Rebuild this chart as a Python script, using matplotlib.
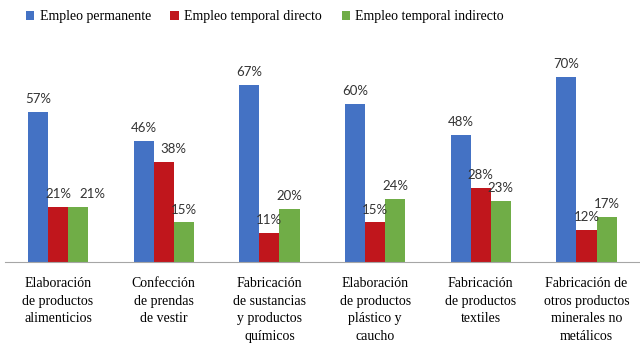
import numpy as np
import matplotlib.pyplot as plt

plt.rcParams["font.family"] = "serif"
plt.rcParams["font.serif"] = ["Liberation Serif", "DejaVu Serif"]

categories = ["Elaboración\nde productos\nalimenticios",
              "Confección\nde prendas\nde vestir",
              "Fabricación\nde sustancias\ny productos\nquímicos",
              "Elaboración\nde productos\nplástico y\ncaucho",
              "Fabricación\nde productos\ntextiles",
              "Fabricación de\notros productos\nminerales no\nmetálicos"]
series_names = ["Empleo permanente", "Empleo temporal directo", "Empleo temporal indirecto"]
permanente = [57, 46, 67, 60, 48, 70]
temp_directo = [21, 38, 11, 15, 28, 12]
temp_indirecto = [21, 15, 20, 24, 23, 17]
colors = ["#4472C4", "#C0161C", "#70AD47"]

# labels that Excel nudged sideways to avoid overlaps: (series, category) -> dx in points
nudges = {(2, 0): 10, (1, 1): 7}

fig = plt.figure(figsize=(6.4, 3.58), dpi=100)
ax = fig.add_axes([0.008, 0.268, 0.991, 0.59])

x = np.arange(len(categories))
w = 0.19
for i, (vals, name, c) in enumerate(zip([permanente, temp_directo, temp_indirecto], series_names, colors)):
    bars = ax.bar(x + (i - 1) * w, vals, width=w, color=c, label=name)
    for j, (b, v) in enumerate(zip(bars, vals)):
        ax.annotate(f"{v}%", (b.get_x() + b.get_width() / 2, v),
                    xytext=(nudges.get((i, j), 0), 5),
                    textcoords="offset points", ha="center", va="bottom",
                    fontsize=9.5, family="Lato", color="#333333")

ax.set_xlim(-0.5, 5.5)
ax.set_ylim(0, 80)
ax.set_yticks([])
ax.set_xticks(x)
ax.set_xticklabels(categories, fontsize=10, linespacing=1.45)
ax.tick_params(axis="x", length=0, pad=11)
for s in ["top", "right", "left"]:
    ax.spines[s].set_visible(False)
ax.spines["bottom"].set_color("#A6A6A6")

fig.legend(loc="center", bbox_to_anchor=(0.414, 0.953), ncol=3, frameon=False,
           prop={"size": 10}, handlelength=0.6, handleheight=0.6,
           handletextpad=0.4, columnspacing=1.4)

fig.savefig("out.png", dpi=100)
